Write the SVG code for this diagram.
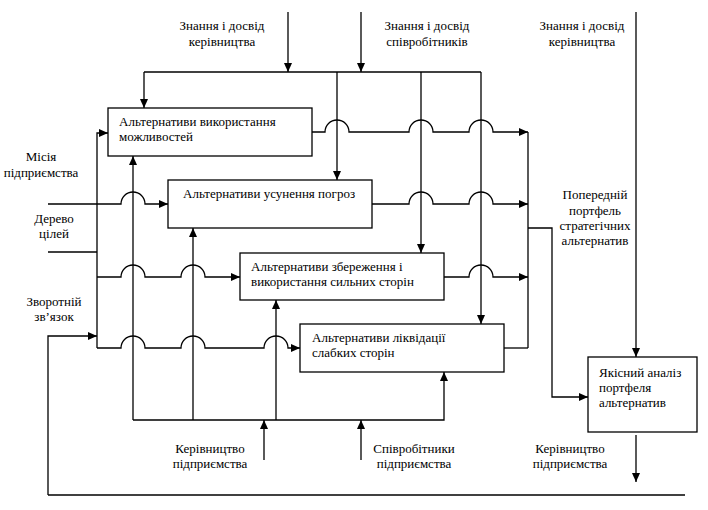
<svg xmlns="http://www.w3.org/2000/svg" width="708" height="510" viewBox="0 0 708 510">
<style>
.b{fill:#fff;stroke:#000;stroke-width:1.3}
.c path{fill:none;stroke:#000;stroke-width:1.3}
.a{marker-end:url(#ar)}
text{font-family:"Liberation Serif","Times New Roman",serif;font-size:13px;fill:#000}
.m{text-anchor:middle}
</style>
<defs>
<marker id="ar" markerUnits="userSpaceOnUse" markerWidth="9" markerHeight="8" refX="9" refY="4" orient="auto">
<path d="M0,0 L9,4 L0,8 z" fill="#000"/>
</marker>
</defs>
<rect width="708" height="510" fill="#fff"/>
<g id="connectors" class="c">
<path class="a" d="M312,132 H325 A12,12 0 0 1 349,132 H409 A12,12 0 0 1 433,132 H469 A12,12 0 0 1 493,132 H528"/>
<path class="a" d="M48,204 H121 A12,12 0 0 1 145,204 H168"/>
<path class="a" d="M372,204 H409 A12,12 0 0 1 433,204 H469 A12,12 0 0 1 493,204 H528"/>
<path class="a" d="M97,277 H121 A12,12 0 0 1 145,277 H181 A12,12 0 0 1 205,277 H240"/>
<path class="a" d="M444,277 H469 A12,12 0 0 1 493,277 H528"/>
<path class="a" d="M97,348 H121 A12,12 0 0 1 145,348 H181 A12,12 0 0 1 205,348 H264 A12,12 0 0 1 288,348 H300"/>
<path d="M504,348 H528"/>
<path d="M48,252 H97"/>
<path class="a" d="M48,495 V336 H97"/>
<path d="M48,495 H685"/>
<path class="a" d="M97,348 V133 H108"/>
<path class="a" d="M288,12 V72"/>
<path class="a" d="M361,12 V72"/>
<path d="M144,72 H481"/>
<path class="a" d="M144,72 V108"/>
<path class="a" d="M337,72 V180"/>
<path class="a" d="M421,72 V253"/>
<path class="a" d="M481,72 V324"/>
<path class="a" d="M133,420 H444 V372"/>
<path class="a" d="M133,420 V156"/>
<path class="a" d="M193,420 V228"/>
<path class="a" d="M276,420 V300"/>
<path class="a" d="M264,460 V420"/>
<path class="a" d="M361,460 V420"/>
<path d="M528,132 V348"/>
<path class="a" d="M528,228 H552 V397 H588"/>
<path class="a" d="M636,12 V357"/>
<path class="a" d="M636,435 V482"/>
</g>
<g id="n1"><rect class="b" x="108" y="108" width="204" height="48"/><text x="119" y="126">Альтернативи використання</text><text x="119" y="141">можливостей</text></g>
<g id="n2"><rect class="b" x="168" y="180" width="204" height="48"/><text x="183" y="198">Альтернативи усунення погроз</text></g>
<g id="n3"><rect class="b" x="240" y="253" width="204" height="47"/><text x="251" y="271">Альтернативи збереження і</text><text x="251" y="286">використання сильних сторін</text></g>
<g id="n4"><rect class="b" x="300" y="324" width="204" height="48"/><text x="312" y="342">Альтернативи ліквідації</text><text x="312" y="357">слабких сторін</text></g>
<g id="n5"><rect class="b" x="588" y="357" width="109" height="75"/><text x="599" y="377">Якісний аналіз</text><text x="599" y="392">портфеля</text><text x="599" y="407">альтернатив</text></g>
<g id="labels">
<text class="m" x="222" y="30">Знання і досвід</text><text class="m" x="222" y="46">керівництва</text>
<text class="m" x="427" y="30">Знання і досвід</text><text class="m" x="427" y="46">співробітників</text>
<text class="m" x="582" y="30">Знання і досвід</text><text class="m" x="582" y="46">керівництва</text>
<text class="m" x="41" y="161">Місія</text><text class="m" x="41" y="177">підприємства</text>
<text class="m" x="54" y="223">Дерево</text><text class="m" x="54" y="238">цілей</text>
<text class="m" x="54" y="306">Зворотній</text><text class="m" x="54" y="321">зв’язок</text>
<text class="m" x="595" y="199">Попередній</text><text class="m" x="595" y="215">портфель</text><text class="m" x="595" y="230">стратегічних</text><text class="m" x="595" y="245">альтернатив</text>
<text class="m" x="210" y="453">Керівництво</text><text class="m" x="210" y="468">підприємства</text>
<text class="m" x="414" y="453">Співробітники</text><text class="m" x="414" y="468">підприємства</text>
<text class="m" x="570" y="453">Керівництво</text><text class="m" x="570" y="468">підприємства</text>
</g>
</svg>
